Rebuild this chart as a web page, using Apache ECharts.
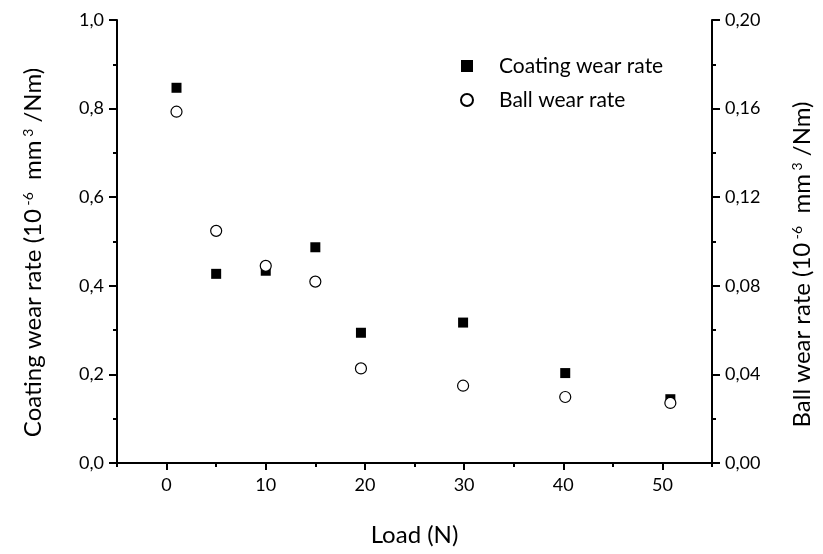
<!DOCTYPE html>
<html>
<head>
<meta charset="utf-8">
<script src="https://cdn.jsdelivr.net/npm/echarts@6/dist/echarts.min.js"></script>
<style>
  html, body { margin: 0; padding: 0; background: #fff; }
  #grafico { width: 823px; height: 554px; }
</style>
</head>
<body>
<div id="grafico"></div>
<script>
// datos
const cargas = [1, 5, 10, 15, 19.6, 29.9, 40.2, 50.8];
const desgasteRecubrimiento = [0.847, 0.427, 0.434, 0.487, 0.294, 0.317, 0.203, 0.144];
const desgasteBola = [0.1586, 0.1048, 0.0890, 0.0819, 0.0427, 0.0349, 0.0298, 0.0271];
const ticksX = [0, 10, 20, 30, 40, 50];
const ticksMenoresX = [-5, 5, 15, 25, 35, 45, 55];

const fuente = 'Lato, "Open Sans", sans-serif';
const coma = (v, d) => v.toFixed(d).replace('.', ',');

const chart = echarts.init(document.getElementById('grafico'));

const textoRico = {
  a: { fontFamily: fuente, fontSize: 24, color: '#000' },
  s: { fontFamily: fuente, fontSize: 14, color: '#000', verticalAlign: 'top' }
};

const option = {
  animation: false,
  textStyle: { fontFamily: fuente, color: '#000' },
  grid: { left: 117, right: 111, top: 20, bottom: 91, outerBoundsMode: 'none' },
  legend: {
    orient: 'vertical',
    left: 455,
    top: 50,
    itemWidth: 12,
    itemHeight: 12,
    itemGap: 12,
    textStyle: { fontFamily: fuente, fontSize: 21, lineHeight: 22, color: '#000', padding: [0, 0, 0, 21] },
    data: ['Coating wear rate', 'Ball wear rate']
  },
  xAxis: [
    {
      type: 'value',
      min: -5,
      max: 55,
      name: 'Load (N)',
      nameLocation: 'middle',
      nameGap: 60,
      nameTextStyle: { fontFamily: fuente, fontSize: 24, color: '#000' },
      axisLine: { onZero: false, lineStyle: { color: '#000', width: 2 } },
      axisTick: { customValues: ticksX, length: 7, lineStyle: { color: '#000', width: 2 } },
      axisLabel: { customValues: ticksX, fontSize: 18, color: '#000', margin: 13 },
      splitLine: { show: false }
    },
    {
      type: 'value',
      position: 'bottom',
      min: -5,
      max: 55,
      axisLine: { show: false, onZero: false },
      axisTick: { customValues: ticksMenoresX, length: 4, lineStyle: { color: '#000', width: 2 } },
      axisLabel: { show: false },
      splitLine: { show: false }
    }
  ],
  yAxis: [
    {
      type: 'value',
      min: 0,
      max: 1,
      interval: 0.2,
      position: 'left',
      name: '{a|Coating wear rate (10}{s| -6}{a|  mm}{s| 3}{a| /Nm)}',
      nameLocation: 'middle',
      nameRotate: 90,
      nameGap: 72,
      nameTextStyle: { padding: [0, 22, 0, 0], rich: textoRico },
      axisLine: { show: true, onZero: false, lineStyle: { color: '#000', width: 2 } },
      axisTick: { show: true, length: 8, lineStyle: { color: '#000', width: 2 } },
      minorTick: { show: true, splitNumber: 2, length: 4, lineStyle: { color: '#000', width: 2 } },
      axisLabel: { fontSize: 18, color: '#000', margin: 13, formatter: v => coma(v, 1) },
      splitLine: { show: false }
    },
    {
      type: 'value',
      min: 0,
      max: 0.2,
      interval: 0.04,
      position: 'right',
      name: '{a|Ball wear rate (10}{s| -6}{a|  mm}{s| 3}{a| /Nm)}',
      nameLocation: 'middle',
      nameRotate: 90,
      nameGap: 78,
      nameTextStyle: { padding: [0, 46, 0, 0], rich: textoRico },
      axisLine: { show: true, onZero: false, lineStyle: { color: '#000', width: 2 } },
      axisTick: { show: true, length: 8, lineStyle: { color: '#000', width: 2 } },
      minorTick: { show: true, splitNumber: 2, length: 4, lineStyle: { color: '#000', width: 2 } },
      axisLabel: { fontSize: 18, color: '#000', margin: 13, formatter: v => coma(v, 2) },
      splitLine: { show: false }
    }
  ],
  series: [
    {
      name: 'Coating wear rate',
      type: 'scatter',
      xAxisIndex: 0,
      yAxisIndex: 0,
      symbol: 'rect',
      symbolSize: 10,
      itemStyle: { color: '#000', opacity: 1 },
      data: cargas.map((c, i) => [c, desgasteRecubrimiento[i]])
    },
    {
      name: 'Ball wear rate',
      type: 'scatter',
      xAxisIndex: 0,
      yAxisIndex: 1,
      symbol: 'circle',
      symbolSize: 11,
      itemStyle: { color: '#fff', borderColor: '#000', borderWidth: 1.2, opacity: 1 },
      data: cargas.map((c, i) => [c, desgasteBola[i]])
    }
  ]
};

chart.setOption(option);
</script>
</body>
</html>
